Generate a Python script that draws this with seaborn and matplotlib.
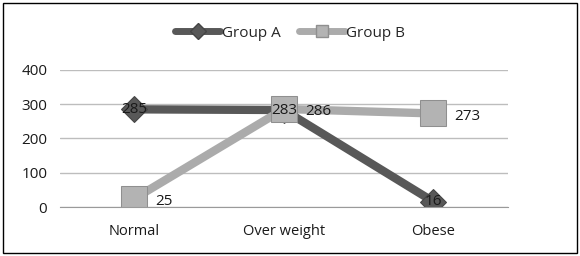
import numpy as np
import pandas as pd
import matplotlib
matplotlib.use("Agg")
import matplotlib.pyplot as plt
import seaborn as sns
from matplotlib.patches import Rectangle
from matplotlib.lines import Line2D

categories = ["Normal", "Over weight", "Obese"]
group_a = [285, 283, 16]
group_b = [25, 286, 273]
y_ticks = [0, 100, 200, 300, 400]

sns.set_style("white")
plt.rcParams["font.family"] = ["Open Sans", "DejaVu Sans"]

df = pd.DataFrame({
    "pos": list(range(len(categories))) * 2,
    "value": group_a + group_b,
    "group": ["Group A"] * 3 + ["Group B"] * 3,
})

col_a = "#585858"
col_b = "#ababab"

fig = plt.figure(figsize=(5.8, 2.56), dpi=100)
ax = fig.add_axes([0.103, 0.191, 0.773, 0.536])

sns.lineplot(data=df[df.group == "Group A"], x="pos", y="value", ax=ax,
             color=col_a, linewidth=6, marker="D", markersize=13,
             markerfacecolor=col_a, markeredgecolor="#444444", legend=False)
sns.lineplot(data=df[df.group == "Group B"], x="pos", y="value", ax=ax,
             color=col_b, linewidth=6, marker="s", markersize=19,
             markerfacecolor="#b3b3b3", markeredgecolor="#8f8f8f", legend=False)

for i, v in enumerate(group_a):
    ax.text(i, v, str(v), ha="center", va="center", fontsize=11, color="#1a1a1a", zorder=5)
for i, v in enumerate(group_b):
    ax.text(i + 0.14, v - 8, str(v), ha="left", va="center", fontsize=11, color="#1a1a1a", zorder=5)

ax.set_xlim(-0.5, 2.5)
ax.set_ylim(0, 400)
ax.set_yticks(y_ticks)
ax.set_yticklabels([str(t) for t in y_ticks], fontsize=11, color="#1a1a1a")
ax.set_xticks(range(len(categories)))
ax.set_xticklabels(categories, fontsize=10.5, color="#1a1a1a")
ax.tick_params(axis="x", length=0, pad=12)
ax.tick_params(axis="y", length=0, pad=9)
ax.set_xticks([0.5, 1.5], minor=True)
ax.tick_params(axis="x", which="minor", length=5, color="#999999", direction="out")
ax.yaxis.grid(True, color="#bdbdbd", linewidth=1)
ax.set_axisbelow(True)
ax.set_xlabel("")
ax.set_ylabel("")
for s in ["top", "right", "left"]:
    ax.spines[s].set_visible(False)
ax.spines["bottom"].set_color("#9a9a9a")

handles = [
    Line2D([], [], color=col_a, linewidth=5, marker="D", markersize=8,
           markerfacecolor=col_a, markeredgecolor="#444444"),
    Line2D([], [], color=col_b, linewidth=5, marker="s", markersize=9,
           markerfacecolor="#b3b3b3", markeredgecolor="#8f8f8f"),
]
fig.legend(handles, ["Group A", "Group B"], loc="center", bbox_to_anchor=(0.5, 0.87),
           ncol=2, frameon=False, fontsize=11, handlelength=3.0, handletextpad=0.1,
           columnspacing=1.2)

fig.patches.append(Rectangle((0.006, 0.012), 0.988, 0.976, transform=fig.transFigure,
                             fill=False, edgecolor="black", linewidth=1))

fig.savefig("out.png", dpi=100)
